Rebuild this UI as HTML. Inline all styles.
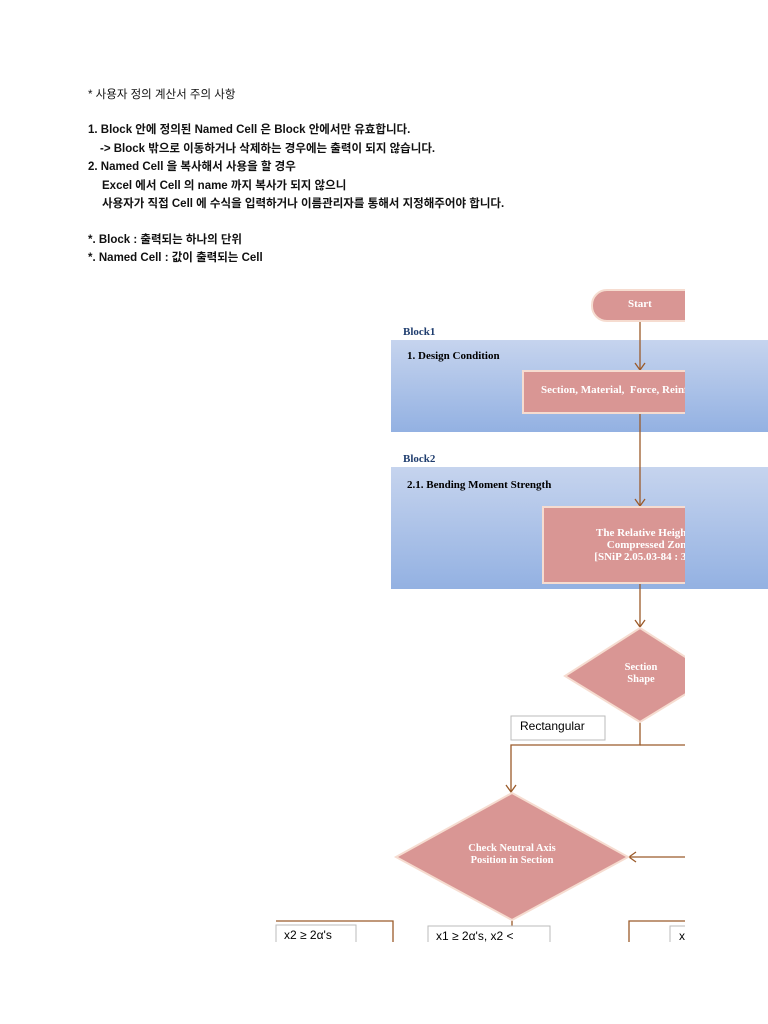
<!DOCTYPE html>
<html><head><meta charset="utf-8"><style>
body{margin:0;width:768px;height:1024px;background:#fff;position:relative;overflow:hidden;font-family:"Liberation Sans","Noto Sans CJK KR",sans-serif}
.t{position:absolute;left:88px;font-size:11.5px;font-weight:bold;color:#111;white-space:nowrap}
.s{font-family:"Liberation Serif",serif;font-weight:bold;position:absolute;white-space:nowrap}
</style></head><body>
<div class="t" style="top:86px;font-weight:normal">* 사용자 정의 계산서 주의 사항</div>
<div class="t" style="top:121px">1. Block 안에 정의된 Named Cell 은 Block 안에서만 유효합니다.</div>
<div class="t" style="top:140px;left:100px">-&gt; Block 밖으로 이동하거나 삭제하는 경우에는 출력이 되지 않습니다.</div>
<div class="t" style="top:158px">2. Named Cell 을 복사해서 사용을 할 경우</div>
<div class="t" style="top:177px;left:102px">Excel 에서 Cell 의 name 까지 복사가 되지 않으니</div>
<div class="t" style="top:195px;left:102px">사용자가 직접 Cell 에 수식을 입력하거나 이름관리자를 통해서 지정해주어야 합니다.</div>
<div class="t" style="top:231px">*. Block : 출력되는 하나의 단위</div>
<div class="t" style="top:249px">*. Named Cell : 값이 출력되는 Cell</div>

<svg width="768" height="1024" style="position:absolute;left:0;top:0">
<defs><linearGradient id="g" x1="0" y1="0" x2="0" y2="1"><stop offset="0" stop-color="#c6d4ee"/><stop offset="1" stop-color="#93b1e2"/></linearGradient>
<clipPath id="c"><rect x="0" y="0" width="685" height="942"/></clipPath></defs>
<rect x="391" y="340" width="377" height="92" fill="url(#g)"/>
<rect x="391" y="467" width="377" height="122" fill="url(#g)"/>
<g clip-path="url(#c)" stroke="#9b5a2a" stroke-width="1.3" fill="none">
<line x1="640" y1="320" x2="640" y2="370"/><polyline points="635,363 640,370 645,363"/>
<line x1="640" y1="413" x2="640" y2="506"/><polyline points="635,499 640,506 645,499"/>
<line x1="640" y1="583" x2="640" y2="627"/><polyline points="635,620 640,627 645,620"/>
<polyline points="640,722 640,745 511,745 511,792"/><polyline points="506,785 511,792 516,785"/>
<line x1="700" y1="745" x2="640" y2="745"/>
<line x1="700" y1="857" x2="629" y2="857"/><polyline points="636,852 629,857 636,862"/>
<polyline points="276,921 393,921 393,942"/>
<line x1="512" y1="920" x2="512" y2="942"/>
<polyline points="629,942 629,921 700,921"/>
</g>
<g clip-path="url(#c)" fill="#d99694" stroke="#f6dcd0" stroke-width="2">
<rect x="592" y="290" width="140" height="31" rx="15"/>
<rect x="523" y="371" width="200" height="42"/>
<rect x="543" y="507" width="200" height="76"/>
<polygon points="640,628 715,676 640,722 565,676"/>
<polygon points="512,793 628,857 512,920 396,857"/>
</g>
<g fill="#fff" stroke="#bbb" stroke-width="1"><rect x="511" y="716" width="94" height="24"/>
<rect x="276" y="925" width="80" height="30"/><rect x="428" y="926" width="122" height="30"/><rect x="670" y="926" width="40" height="30"/></g>
<rect x="685" y="0" width="83" height="340" fill="#fff"/><rect x="685" y="432" width="83" height="35" fill="#fff"/><rect x="685" y="589" width="83" height="435" fill="#fff"/>
<rect x="0" y="942" width="768" height="82" fill="#fff"/>
</svg>
<div class="s" style="left:403px;top:326px;font-size:11px;color:#1f3d6e">Block1</div>
<div class="s" style="left:407px;top:350px;font-size:11px">1. Design Condition</div>
<div class="s" style="left:403px;top:453px;font-size:11px;color:#1f3d6e">Block2</div>
<div class="s" style="left:407px;top:479px;font-size:11px">2.1. Bending Moment Strength</div>
<div class="s" style="left:628px;top:298px;font-size:11px;color:#fff">Start</div>
<div style="position:absolute;left:523px;top:371px;width:162px;height:42px;overflow:hidden"><div class="s" style="left:18px;top:13px;font-size:11px;color:#fff">Section, Material,&nbsp; Force, Reinforcement</div></div>
<div style="position:absolute;left:543px;top:507px;width:142px;height:76px;overflow:hidden"><div class="s" style="left:34px;top:20px;font-size:11px;color:#fff;line-height:12px;text-align:center;width:160px;left:26px">The Relative Height of<br>Compressed Zone<br>[SNiP 2.05.03-84 : 3.00]</div></div>
<div class="s" style="left:610px;top:662px;width:62px;text-align:center;font-size:10.5px;color:#fff;line-height:12px">Section<br>Shape</div>
<div class="s" style="left:450px;top:843px;width:124px;text-align:center;font-size:10.5px;color:#fff;line-height:12px">Check Neutral Axis<br>Position in Section</div>
<div style="position:absolute;left:520px;top:719px;font-size:12px">Rectangular</div>
<div style="position:absolute;left:284px;top:928px;font-size:12px">x2 ≥ 2α's</div>
<div style="position:absolute;left:436px;top:929px;font-size:12px">x1 ≥ 2α's, x2 &lt;</div>
<div style="position:absolute;left:679px;top:929px;font-size:12px;width:6px;overflow:hidden">x</div>
</body></html>
